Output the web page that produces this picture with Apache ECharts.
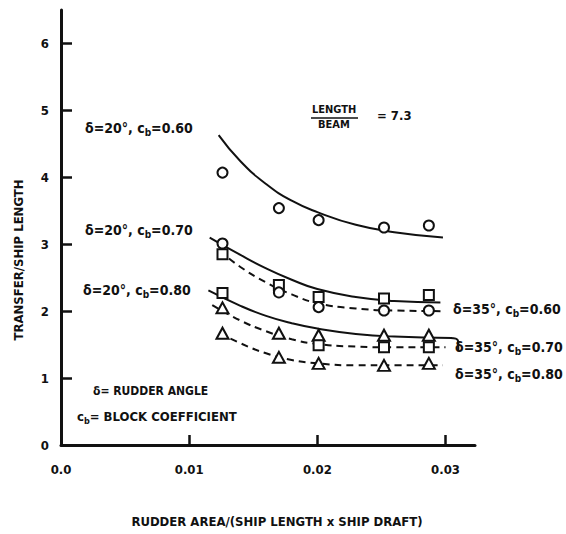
<!DOCTYPE html>
<html>
<head>
<meta charset="utf-8">
<script src="https://cdn.jsdelivr.net/npm/echarts@6/dist/echarts.min.js"></script>
<style>
  html, body { margin: 0; padding: 0; background: #fff; }
  #chart { width: 566px; height: 534px; }
</style>
</head>
<body>
<div id="chart"></div>
<script>
// Measured points: [rudder area ratio, transfer / ship length]
const pts20_60 = [[0.0126, 4.07], [0.0170, 3.54], [0.0201, 3.36], [0.0252, 3.25], [0.0287, 3.28]];
const pts20_70 = [[0.0126, 2.85], [0.0170, 2.39], [0.0201, 2.21], [0.0252, 2.19], [0.0287, 2.24]];
const pts35_60 = [[0.0126, 3.01], [0.0170, 2.28], [0.0201, 2.06], [0.0252, 2.01], [0.0287, 2.01]];
const pts20_80 = [[0.0126, 2.05], [0.0170, 1.67], [0.0201, 1.64], [0.0252, 1.64], [0.0287, 1.64]];
const pts35_70 = [[0.0126, 2.27], [0.0201, 1.49], [0.0252, 1.46], [0.0287, 1.46]];
const pts35_80 = [[0.0126, 1.67], [0.0170, 1.31], [0.0201, 1.22], [0.0252, 1.19], [0.0287, 1.22]];

// Faired curves through each set
const fit20_60 = [[0.0123, 4.63], [0.0140, 4.24], [0.0160, 3.90], [0.0180, 3.65], [0.0200, 3.48], [0.0230, 3.29], [0.0260, 3.18], [0.0298, 3.10]];
const fit20_70 = [[0.0116, 3.10], [0.0140, 2.84], [0.0160, 2.64], [0.0180, 2.47], [0.0200, 2.33], [0.0230, 2.21], [0.0260, 2.15], [0.0296, 2.13]];
const fit35_60 = [[0.0124, 2.90], [0.0140, 2.66], [0.0160, 2.43], [0.0180, 2.25], [0.0200, 2.12], [0.0230, 2.04], [0.0260, 2.01], [0.0300, 2.00]];
const fit20_80 = [[0.0115, 2.31], [0.0140, 2.08], [0.0160, 1.93], [0.0180, 1.82], [0.0200, 1.74], [0.0230, 1.66], [0.0260, 1.62], [0.0305, 1.60]];
const hook20_80 = [[0.0304, 1.60], [0.0308, 1.59], [0.0310, 1.53], [0.0310, 1.40]];
const fit35_70 = [[0.0118, 2.09], [0.0140, 1.86], [0.0160, 1.70], [0.0180, 1.58], [0.0200, 1.51], [0.0230, 1.47], [0.0260, 1.46], [0.0300, 1.46]];
const fit35_80 = [[0.0124, 1.67], [0.0140, 1.52], [0.0160, 1.37], [0.0180, 1.27], [0.0200, 1.22], [0.0230, 1.19], [0.0260, 1.19], [0.0298, 1.19]];

const xTicks = [0.01, 0.02, 0.03];
const xLabels = [0, 0.01, 0.02, 0.03];
const yTicks = [1, 2, 3, 4, 5, 6];
const yLabels = [0, 1, 2, 3, 4, 5, 6];

const INK = '#111';
const FONT = '"DejaVu Sans Condensed", "DejaVu Sans", sans-serif';

const triangle = 'path://M5,0 L10,9 L0,9 Z';

function markers(data, symbol, size) {
  return {
    type: 'scatter', data: data, symbol: symbol, symbolSize: size,
    itemStyle: { color: '#fff', borderColor: INK, borderWidth: 2, opacity: 1 },
    z: 5, silent: true
  };
}
function curve(data, dashed) {
  return {
    type: 'line', data: data, smooth: 0.5,
    showSymbol: false, symbol: 'none',
    lineStyle: { color: INK, width: 2, type: dashed ? [7, 5] : 'solid' },
    z: 3, silent: true
  };
}

const labelText = { fontFamily: FONT, fontWeight: 'bold', fontSize: 13, fill: INK };
function note(x, y, text, size) {
  const fs = size || 13;
  return {
    type: 'text', left: x, top: y - 9,
    style: Object.assign({
      text: text,
      rich: { sub: { fontFamily: FONT, fontWeight: 'bold', fontSize: fs - 4, padding: [9, 0, 0, 0] } }
    }, labelText, { fontSize: fs })
  };
}

const chart = echarts.init(document.getElementById('chart'), null, { renderer: 'svg' });
chart.setOption({
  backgroundColor: '#fff',
  animation: false,
  grid: { left: 61, right: 91, top: 10, bottom: 89 },
  xAxis: {
    type: 'value', min: 0, max: 0.0323,
    splitLine: { show: false },
    axisLine: { lineStyle: { color: INK, width: 3 } },
    axisTick: { inside: true, length: 10, lineStyle: { color: INK, width: 2.5 }, customValues: xTicks },
    axisLabel: {
      customValues: xLabels, margin: 18,
      color: INK, fontFamily: FONT, fontWeight: 'bold', fontSize: 13,
      formatter: v => (v === 0 ? '0.0' : v.toFixed(2))
    }
  },
  yAxis: {
    type: 'value', min: 0, max: 6.5,
    splitLine: { show: false },
    axisLine: { lineStyle: { color: INK, width: 3 } },
    axisTick: { inside: true, length: 11, lineStyle: { color: INK, width: 2.5 }, customValues: yTicks },
    axisLabel: {
      customValues: yLabels, margin: 12,
      color: INK, fontFamily: FONT, fontWeight: 'bold', fontSize: 13
    }
  },
  series: [
    curve(fit20_60, false),
    curve(fit20_70, false),
    curve(fit35_60, true),
    curve(fit20_80, false),
    curve(hook20_80, false),
    curve(fit35_70, true),
    curve(fit35_80, true),
    markers(pts20_60, 'circle', 10),
    markers(pts20_70, 'rect', 10),
    markers(pts35_60, 'circle', 10),
    markers(pts20_80, triangle, [12, 11]),
    markers(pts35_70, 'rect', 10),
    markers(pts35_80, triangle, [12, 11])
  ],
  graphic: [
    note(85, 130, 'δ=20°, c{sub|b}=0.60', 14),
    note(85, 232, 'δ=20°, c{sub|b}=0.70', 14),
    note(83, 292, 'δ=20°, c{sub|b}=0.80', 14),
    note(453, 311, 'δ=35°, c{sub|b}=0.60', 14),
    note(455, 349, 'δ=35°, c{sub|b}=0.70', 14),
    note(455, 376, 'δ=35°, c{sub|b}=0.80', 14),
    note(93, 394, 'δ= RUDDER ANGLE', 12),
    note(77, 419, 'c{sub|b}= BLOCK COEFFICIENT', 13),
    {
      type: 'text', left: 312, top: 104,
      style: Object.assign({ text: 'LENGTH' }, labelText, { fontSize: 11 })
    },
    {
      type: 'line', shape: { x1: 311, y1: 118, x2: 358, y2: 118 },
      style: { stroke: INK, lineWidth: 1.5 }
    },
    {
      type: 'text', left: 318, top: 119,
      style: Object.assign({ text: 'BEAM' }, labelText, { fontSize: 11 })
    },
    note(377, 118, '= 7.3', 13),
    {
      type: 'text', x: 18, y: 260, rotation: Math.PI / 2,
      style: Object.assign({ text: 'TRANSFER/SHIP LENGTH', align: 'center', verticalAlign: 'middle' },
        labelText, { fontSize: 13 })
    },
    {
      type: 'text', x: 277, y: 521,
      style: Object.assign({ text: 'RUDDER AREA/(SHIP LENGTH x SHIP DRAFT)', align: 'center', verticalAlign: 'middle' },
        labelText, { fontSize: 13 })
    }
  ]
});
</script>
</body>
</html>
